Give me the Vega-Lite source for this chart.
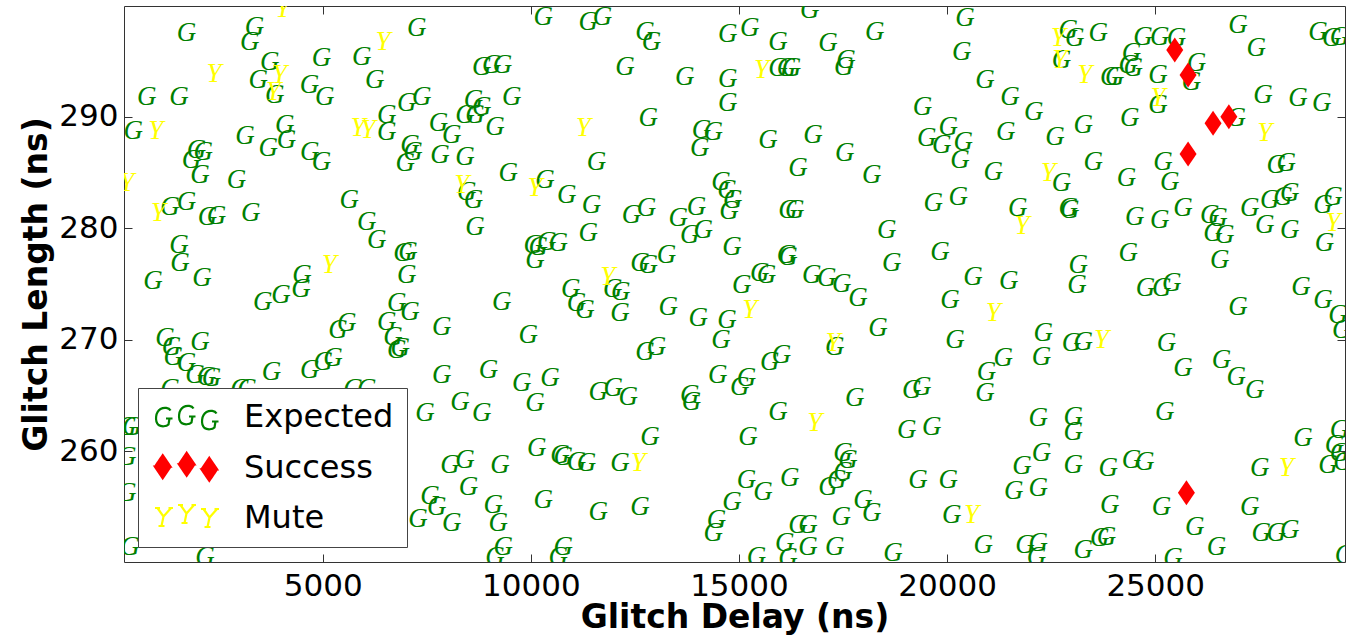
{
"$schema":"https://vega.github.io/schema/vega-lite/v6.json",
"width":1221,"height":556,
"autosize":{"type":"none"},
"padding":{"left":124,"top":6,"right":3,"bottom":75},
"background":"white",
"config":{"view":{"stroke":"#333","strokeWidth":1},
 "axis":{"labelFont":"DejaVu Sans","labelFontSize":31,"labelColor":"black","titleFont":"DejaVu Sans","titleFontSize":33,"titleFontWeight":"bold","titleColor":"black","grid":false,"domain":false,"tickColor":"#333","tickWidth":1,"tickSize":-8}},
"data":{"values":[
{"delay":4040,"length":299.62,"result":"Mute"},
{"delay":1730,"length":297.45,"result":"Expected"},
{"delay":3360,"length":298.04,"result":"Expected"},
{"delay":3250,"length":296.70,"result":"Expected"},
{"delay":7260,"length":297.90,"result":"Expected"},
{"delay":6450,"length":296.70,"result":"Mute"},
{"delay":2390,"length":293.80,"result":"Mute"},
{"delay":3730,"length":294.90,"result":"Expected"},
{"delay":3450,"length":293.26,"result":"Expected"},
{"delay":3960,"length":293.71,"result":"Mute"},
{"delay":3850,"length":291.92,"result":"Expected"},
{"delay":3810,"length":292.22,"result":"Mute"},
{"delay":4970,"length":295.21,"result":"Expected"},
{"delay":5940,"length":295.35,"result":"Expected"},
{"delay":6250,"length":293.26,"result":"Expected"},
{"delay":4680,"length":292.82,"result":"Expected"},
{"delay":5050,"length":291.77,"result":"Expected"},
{"delay":770,"length":291.77,"result":"Expected"},
{"delay":1550,"length":291.77,"result":"Expected"},
{"delay":450,"length":288.72,"result":"Expected"},
{"delay":990,"length":288.72,"result":"Mute"},
{"delay":3130,"length":288.25,"result":"Expected"},
{"delay":4090,"length":289.23,"result":"Expected"},
{"delay":4130,"length":287.89,"result":"Expected"},
{"delay":3690,"length":287.15,"result":"Expected"},
{"delay":4690,"length":286.84,"result":"Expected"},
{"delay":4970,"length":285.95,"result":"Expected"},
{"delay":5850,"length":288.94,"result":"Mute"},
{"delay":6090,"length":288.79,"result":"Mute"},
{"delay":6540,"length":290.13,"result":"Expected"},
{"delay":6540,"length":288.63,"result":"Expected"},
{"delay":7020,"length":291.18,"result":"Expected"},
{"delay":7380,"length":291.77,"result":"Expected"},
{"delay":7100,"length":287.44,"result":"Expected"},
{"delay":7170,"length":286.84,"result":"Expected"},
{"delay":6980,"length":285.80,"result":"Expected"},
{"delay":1970,"length":286.99,"result":"Expected"},
{"delay":2130,"length":286.84,"result":"Expected"},
{"delay":1850,"length":286.10,"result":"Expected"},
{"delay":2050,"length":284.76,"result":"Expected"},
{"delay":2930,"length":284.31,"result":"Expected"},
{"delay":290,"length":284.01,"result":"Mute"},
{"delay":1050,"length":281.33,"result":"Mute"},
{"delay":1330,"length":281.92,"result":"Expected"},
{"delay":1730,"length":282.36,"result":"Expected"},
{"delay":2230,"length":281.02,"result":"Expected"},
{"delay":2450,"length":281.08,"result":"Expected"},
{"delay":3270,"length":281.33,"result":"Expected"},
{"delay":5640,"length":282.52,"result":"Expected"},
{"delay":6060,"length":280.57,"result":"Expected"},
{"delay":6300,"length":278.93,"result":"Expected"},
{"delay":6930,"length":277.74,"result":"Expected"},
{"delay":7050,"length":277.89,"result":"Expected"},
{"delay":1550,"length":278.49,"result":"Expected"},
{"delay":1570,"length":276.85,"result":"Expected"},
{"delay":2100,"length":275.53,"result":"Expected"},
{"delay":920,"length":275.26,"result":"Expected"},
{"delay":5160,"length":276.69,"result":"Mute"},
{"delay":4500,"length":275.80,"result":"Expected"},
{"delay":4480,"length":274.54,"result":"Expected"},
{"delay":4000,"length":274.01,"result":"Expected"},
{"delay":3560,"length":273.38,"result":"Expected"},
{"delay":7020,"length":275.80,"result":"Expected"},
{"delay":5370,"length":270.87,"result":"Expected"},
{"delay":5580,"length":271.47,"result":"Expected"},
{"delay":6780,"length":273.26,"result":"Expected"},
{"delay":7100,"length":272.51,"result":"Expected"},
{"delay":6540,"length":271.62,"result":"Expected"},
{"delay":6690,"length":270.27,"result":"Expected"},
{"delay":6860,"length":269.23,"result":"Expected"},
{"delay":6780,"length":269.08,"result":"Expected"},
{"delay":1210,"length":270.13,"result":"Expected"},
{"delay":1370,"length":269.38,"result":"Expected"},
{"delay":1410,"length":268.48,"result":"Expected"},
{"delay":2050,"length":269.82,"result":"Expected"},
{"delay":1730,"length":267.89,"result":"Expected"},
{"delay":1930,"length":266.84,"result":"Expected"},
{"delay":2210,"length":266.69,"result":"Expected"},
{"delay":2330,"length":266.55,"result":"Expected"},
{"delay":3770,"length":267.14,"result":"Expected"},
{"delay":4690,"length":267.29,"result":"Expected"},
{"delay":5010,"length":268.03,"result":"Expected"},
{"delay":5250,"length":268.34,"result":"Expected"},
{"delay":1330,"length":265.59,"result":"Expected"},
{"delay":3010,"length":265.59,"result":"Expected"},
{"delay":3180,"length":265.59,"result":"Expected"},
{"delay":5730,"length":265.59,"result":"Expected"},
{"delay":6060,"length":265.59,"result":"Expected"},
{"delay":290,"length":262.21,"result":"Expected"},
{"delay":410,"length":262.21,"result":"Expected"},
{"delay":290,"length":259.52,"result":"Expected"},
{"delay":290,"length":256.25,"result":"Expected"},
{"delay":370,"length":251.46,"result":"Expected"},
{"delay":7460,"length":263.44,"result":"Expected"},
{"delay":7580,"length":256.00,"result":"Expected"},
{"delay":7740,"length":255.02,"result":"Expected"},
{"delay":7290,"length":253.94,"result":"Expected"},
{"delay":2170,"length":250.54,"result":"Expected"},
{"delay":10300,"length":298.93,"result":"Expected"},
{"delay":11380,"length":298.49,"result":"Expected"},
{"delay":11720,"length":298.88,"result":"Expected"},
{"delay":12740,"length":297.59,"result":"Expected"},
{"delay":12900,"length":296.70,"result":"Expected"},
{"delay":14730,"length":297.38,"result":"Expected"},
{"delay":8820,"length":294.46,"result":"Expected"},
{"delay":9060,"length":294.61,"result":"Expected"},
{"delay":9320,"length":294.61,"result":"Expected"},
{"delay":12260,"length":294.46,"result":"Expected"},
{"delay":13700,"length":293.56,"result":"Expected"},
{"delay":14730,"length":293.35,"result":"Expected"},
{"delay":14730,"length":291.20,"result":"Expected"},
{"delay":9540,"length":291.77,"result":"Expected"},
{"delay":8620,"length":291.47,"result":"Expected"},
{"delay":8820,"length":290.87,"result":"Expected"},
{"delay":8420,"length":290.13,"result":"Expected"},
{"delay":8660,"length":290.13,"result":"Expected"},
{"delay":7780,"length":289.39,"result":"Expected"},
{"delay":8100,"length":288.34,"result":"Expected"},
{"delay":9140,"length":289.08,"result":"Expected"},
{"delay":7820,"length":286.55,"result":"Expected"},
{"delay":8420,"length":286.39,"result":"Expected"},
{"delay":11260,"length":288.94,"result":"Mute"},
{"delay":12820,"length":289.83,"result":"Expected"},
{"delay":14100,"length":288.79,"result":"Expected"},
{"delay":14380,"length":288.63,"result":"Expected"},
{"delay":14060,"length":287.15,"result":"Expected"},
{"delay":11580,"length":285.95,"result":"Expected"},
{"delay":9460,"length":284.91,"result":"Expected"},
{"delay":8340,"length":283.86,"result":"Mute"},
{"delay":8460,"length":283.26,"result":"Expected"},
{"delay":8620,"length":282.52,"result":"Expected"},
{"delay":10100,"length":283.56,"result":"Mute"},
{"delay":10340,"length":284.31,"result":"Expected"},
{"delay":10860,"length":282.96,"result":"Expected"},
{"delay":11460,"length":282.07,"result":"Expected"},
{"delay":12420,"length":281.17,"result":"Expected"},
{"delay":12780,"length":281.77,"result":"Expected"},
{"delay":13540,"length":280.88,"result":"Expected"},
{"delay":13980,"length":281.92,"result":"Expected"},
{"delay":14570,"length":284.13,"result":"Expected"},
{"delay":14710,"length":283.41,"result":"Expected"},
{"delay":14850,"length":282.52,"result":"Expected"},
{"delay":14760,"length":281.53,"result":"Expected"},
{"delay":8660,"length":280.12,"result":"Expected"},
{"delay":11380,"length":279.53,"result":"Expected"},
{"delay":13820,"length":279.38,"result":"Expected"},
{"delay":14140,"length":279.83,"result":"Expected"},
{"delay":10060,"length":278.49,"result":"Expected"},
{"delay":10180,"length":278.33,"result":"Expected"},
{"delay":10100,"length":277.14,"result":"Expected"},
{"delay":10380,"length":278.78,"result":"Expected"},
{"delay":10660,"length":278.64,"result":"Expected"},
{"delay":12620,"length":276.85,"result":"Expected"},
{"delay":12820,"length":276.69,"result":"Expected"},
{"delay":13260,"length":277.59,"result":"Expected"},
{"delay":14830,"length":278.31,"result":"Expected"},
{"delay":11850,"length":275.62,"result":"Mute"},
{"delay":10960,"length":274.54,"result":"Expected"},
{"delay":11970,"length":274.54,"result":"Expected"},
{"delay":12160,"length":274.28,"result":"Expected"},
{"delay":11100,"length":273.26,"result":"Expected"},
{"delay":11300,"length":272.66,"result":"Expected"},
{"delay":12140,"length":272.37,"result":"Expected"},
{"delay":9300,"length":273.41,"result":"Expected"},
{"delay":7860,"length":271.17,"result":"Expected"},
{"delay":9940,"length":270.42,"result":"Expected"},
{"delay":13300,"length":272.96,"result":"Expected"},
{"delay":14020,"length":271.92,"result":"Expected"},
{"delay":14710,"length":271.77,"result":"Expected"},
{"delay":14570,"length":269.98,"result":"Expected"},
{"delay":12740,"length":268.93,"result":"Expected"},
{"delay":13020,"length":269.38,"result":"Expected"},
{"delay":7860,"length":266.84,"result":"Expected"},
{"delay":8980,"length":267.29,"result":"Expected"},
{"delay":9780,"length":266.10,"result":"Expected"},
{"delay":10460,"length":266.55,"result":"Expected"},
{"delay":10100,"length":264.31,"result":"Expected"},
{"delay":8300,"length":264.45,"result":"Expected"},
{"delay":8820,"length":263.41,"result":"Expected"},
{"delay":11620,"length":265.35,"result":"Expected"},
{"delay":11980,"length":265.65,"result":"Expected"},
{"delay":12340,"length":264.90,"result":"Expected"},
{"delay":13820,"length":265.05,"result":"Expected"},
{"delay":13860,"length":264.45,"result":"Expected"},
{"delay":14490,"length":266.84,"result":"Expected"},
{"delay":12860,"length":261.32,"result":"Expected"},
{"delay":10140,"length":260.28,"result":"Expected"},
{"delay":10700,"length":259.68,"result":"Expected"},
{"delay":10780,"length":259.52,"result":"Expected"},
{"delay":11100,"length":259.08,"result":"Expected"},
{"delay":11340,"length":258.93,"result":"Expected"},
{"delay":12140,"length":258.93,"result":"Expected"},
{"delay":12580,"length":258.93,"result":"Mute"},
{"delay":8060,"length":258.78,"result":"Expected"},
{"delay":8420,"length":259.23,"result":"Expected"},
{"delay":9260,"length":258.78,"result":"Expected"},
{"delay":8500,"length":256.84,"result":"Expected"},
{"delay":8100,"length":253.56,"result":"Expected"},
{"delay":9100,"length":255.20,"result":"Expected"},
{"delay":9220,"length":253.56,"result":"Expected"},
{"delay":10300,"length":255.65,"result":"Expected"},
{"delay":11620,"length":254.60,"result":"Expected"},
{"delay":12620,"length":255.05,"result":"Expected"},
{"delay":14460,"length":253.85,"result":"Expected"},
{"delay":14380,"length":252.66,"result":"Expected"},
{"delay":14830,"length":255.47,"result":"Expected"},
{"delay":9340,"length":251.46,"result":"Expected"},
{"delay":9140,"length":250.57,"result":"Expected"},
{"delay":10780,"length":251.46,"result":"Expected"},
{"delay":10660,"length":250.57,"result":"Expected"},
{"delay":16700,"length":299.53,"result":"Expected"},
{"delay":15260,"length":297.90,"result":"Expected"},
{"delay":15940,"length":296.70,"result":"Expected"},
{"delay":17140,"length":296.55,"result":"Expected"},
{"delay":18260,"length":297.59,"result":"Expected"},
{"delay":20430,"length":298.79,"result":"Expected"},
{"delay":20350,"length":295.80,"result":"Expected"},
{"delay":15540,"length":294.16,"result":"Mute"},
{"delay":15940,"length":294.31,"result":"Expected"},
{"delay":16140,"length":294.31,"result":"Expected"},
{"delay":16260,"length":294.31,"result":"Expected"},
{"delay":17570,"length":295.06,"result":"Expected"},
{"delay":17520,"length":294.46,"result":"Expected"},
{"delay":20910,"length":293.26,"result":"Expected"},
{"delay":21510,"length":291.77,"result":"Expected"},
{"delay":22080,"length":290.40,"result":"Expected"},
{"delay":19410,"length":290.87,"result":"Expected"},
{"delay":15700,"length":287.89,"result":"Expected"},
{"delay":16780,"length":288.34,"result":"Expected"},
{"delay":17540,"length":286.70,"result":"Expected"},
{"delay":16420,"length":285.36,"result":"Expected"},
{"delay":18190,"length":284.76,"result":"Expected"},
{"delay":19510,"length":288.04,"result":"Expected"},
{"delay":19870,"length":287.44,"result":"Expected"},
{"delay":20030,"length":289.08,"result":"Expected"},
{"delay":20390,"length":287.74,"result":"Expected"},
{"delay":20310,"length":286.10,"result":"Expected"},
{"delay":21410,"length":288.63,"result":"Expected"},
{"delay":21110,"length":285.05,"result":"Expected"},
{"delay":16180,"length":281.62,"result":"Expected"},
{"delay":16340,"length":281.62,"result":"Expected"},
{"delay":19670,"length":282.22,"result":"Expected"},
{"delay":20270,"length":282.81,"result":"Expected"},
{"delay":21700,"length":281.84,"result":"Expected"},
{"delay":21800,"length":280.19,"result":"Mute"},
{"delay":16140,"length":277.59,"result":"Expected"},
{"delay":16180,"length":277.44,"result":"Expected"},
{"delay":18550,"length":279.83,"result":"Expected"},
{"delay":19830,"length":277.89,"result":"Expected"},
{"delay":18670,"length":276.85,"result":"Expected"},
{"delay":15500,"length":275.95,"result":"Expected"},
{"delay":15660,"length":275.80,"result":"Expected"},
{"delay":15070,"length":274.90,"result":"Expected"},
{"delay":16750,"length":275.80,"result":"Expected"},
{"delay":17110,"length":275.53,"result":"Expected"},
{"delay":17470,"length":274.99,"result":"Expected"},
{"delay":20620,"length":275.62,"result":"Expected"},
{"delay":21480,"length":275.26,"result":"Expected"},
{"delay":17860,"length":273.71,"result":"Expected"},
{"delay":15260,"length":272.66,"result":"Mute"},
{"delay":18340,"length":271.02,"result":"Expected"},
{"delay":20070,"length":273.56,"result":"Expected"},
{"delay":20190,"length":269.98,"result":"Expected"},
{"delay":21110,"length":272.37,"result":"Mute"},
{"delay":17260,"length":269.68,"result":"Mute"},
{"delay":17300,"length":269.38,"result":"Expected"},
{"delay":15740,"length":268.03,"result":"Expected"},
{"delay":16020,"length":268.63,"result":"Expected"},
{"delay":15020,"length":265.79,"result":"Expected"},
{"delay":15180,"length":266.55,"result":"Expected"},
{"delay":17780,"length":264.75,"result":"Expected"},
{"delay":19150,"length":265.50,"result":"Expected"},
{"delay":19390,"length":265.79,"result":"Expected"},
{"delay":20950,"length":267.14,"result":"Expected"},
{"delay":21350,"length":268.34,"result":"Expected"},
{"delay":20910,"length":265.20,"result":"Expected"},
{"delay":15940,"length":263.56,"result":"Expected"},
{"delay":16820,"length":262.52,"result":"Mute"},
{"delay":15220,"length":261.32,"result":"Expected"},
{"delay":19030,"length":261.92,"result":"Expected"},
{"delay":19630,"length":262.21,"result":"Expected"},
{"delay":17500,"length":259.83,"result":"Expected"},
{"delay":17620,"length":259.23,"result":"Expected"},
{"delay":17500,"length":258.18,"result":"Expected"},
{"delay":17350,"length":257.44,"result":"Expected"},
{"delay":17140,"length":256.84,"result":"Expected"},
{"delay":15180,"length":257.44,"result":"Expected"},
{"delay":15580,"length":256.39,"result":"Expected"},
{"delay":16220,"length":257.59,"result":"Expected"},
{"delay":19300,"length":257.44,"result":"Expected"},
{"delay":20030,"length":257.44,"result":"Expected"},
{"delay":21800,"length":258.69,"result":"Expected"},
{"delay":21600,"length":256.45,"result":"Expected"},
{"delay":17980,"length":255.65,"result":"Expected"},
{"delay":18190,"length":254.45,"result":"Expected"},
{"delay":17460,"length":254.15,"result":"Expected"},
{"delay":16420,"length":253.41,"result":"Expected"},
{"delay":16660,"length":253.41,"result":"Expected"},
{"delay":20110,"length":254.30,"result":"Expected"},
{"delay":20590,"length":254.30,"result":"Mute"},
{"delay":16100,"length":251.77,"result":"Expected"},
{"delay":16660,"length":251.46,"result":"Expected"},
{"delay":17300,"length":251.46,"result":"Expected"},
{"delay":15420,"length":250.57,"result":"Expected"},
{"delay":16180,"length":250.42,"result":"Expected"},
{"delay":18700,"length":250.87,"result":"Expected"},
{"delay":20870,"length":251.61,"result":"Expected"},
{"delay":21870,"length":251.61,"result":"Expected"},
{"delay":22670,"length":297.00,"result":"Mute"},
{"delay":22910,"length":297.74,"result":"Expected"},
{"delay":23070,"length":297.00,"result":"Expected"},
{"delay":23630,"length":297.45,"result":"Expected"},
{"delay":24710,"length":297.14,"result":"Expected"},
{"delay":25110,"length":297.14,"result":"Expected"},
{"delay":25510,"length":297.00,"result":"Expected"},
{"delay":25470,"length":295.95,"result":"Success"},
{"delay":24430,"length":295.66,"result":"Expected"},
{"delay":24350,"length":294.61,"result":"Expected"},
{"delay":24470,"length":294.31,"result":"Expected"},
{"delay":23910,"length":293.56,"result":"Expected"},
{"delay":24030,"length":293.56,"result":"Expected"},
{"delay":22710,"length":295.06,"result":"Mute"},
{"delay":22750,"length":295.06,"result":"Expected"},
{"delay":23310,"length":293.71,"result":"Mute"},
{"delay":25070,"length":293.71,"result":"Expected"},
{"delay":25790,"length":293.71,"result":"Success"},
{"delay":25990,"length":294.76,"result":"Expected"},
{"delay":25870,"length":293.11,"result":"Expected"},
{"delay":26990,"length":298.19,"result":"Expected"},
{"delay":27430,"length":296.10,"result":"Expected"},
{"delay":28910,"length":297.59,"result":"Expected"},
{"delay":29240,"length":297.00,"result":"Expected"},
{"delay":29430,"length":297.14,"result":"Expected"},
{"delay":25070,"length":291.63,"result":"Mute"},
{"delay":25070,"length":291.03,"result":"Expected"},
{"delay":24390,"length":289.83,"result":"Expected"},
{"delay":23270,"length":289.23,"result":"Expected"},
{"delay":22590,"length":288.19,"result":"Expected"},
{"delay":26390,"length":289.39,"result":"Success"},
{"delay":26770,"length":289.98,"result":"Success"},
{"delay":26950,"length":289.83,"result":"Expected"},
{"delay":27590,"length":291.92,"result":"Expected"},
{"delay":28430,"length":291.63,"result":"Expected"},
{"delay":29000,"length":291.18,"result":"Expected"},
{"delay":27630,"length":288.49,"result":"Mute"},
{"delay":25790,"length":286.64,"result":"Success"},
{"delay":23510,"length":285.95,"result":"Expected"},
{"delay":25190,"length":285.95,"result":"Expected"},
{"delay":22430,"length":284.91,"result":"Mute"},
{"delay":22750,"length":284.01,"result":"Expected"},
{"delay":24310,"length":284.46,"result":"Expected"},
{"delay":25350,"length":284.16,"result":"Expected"},
{"delay":27910,"length":285.65,"result":"Expected"},
{"delay":28150,"length":285.80,"result":"Expected"},
{"delay":22910,"length":281.77,"result":"Expected"},
{"delay":22950,"length":281.62,"result":"Expected"},
{"delay":24510,"length":281.02,"result":"Expected"},
{"delay":25110,"length":280.72,"result":"Expected"},
{"delay":25670,"length":281.77,"result":"Expected"},
{"delay":26310,"length":281.17,"result":"Expected"},
{"delay":26510,"length":280.88,"result":"Expected"},
{"delay":26390,"length":279.53,"result":"Expected"},
{"delay":26670,"length":279.38,"result":"Expected"},
{"delay":27270,"length":281.77,"result":"Expected"},
{"delay":27750,"length":282.52,"result":"Expected"},
{"delay":28070,"length":282.81,"result":"Expected"},
{"delay":28230,"length":283.12,"result":"Expected"},
{"delay":27630,"length":280.28,"result":"Expected"},
{"delay":28230,"length":279.83,"result":"Expected"},
{"delay":29030,"length":282.07,"result":"Expected"},
{"delay":29270,"length":282.81,"result":"Expected"},
{"delay":29270,"length":280.43,"result":"Mute"},
{"delay":29070,"length":278.64,"result":"Expected"},
{"delay":24350,"length":277.74,"result":"Expected"},
{"delay":26550,"length":277.14,"result":"Expected"},
{"delay":23150,"length":276.69,"result":"Expected"},
{"delay":23120,"length":274.90,"result":"Expected"},
{"delay":24770,"length":274.63,"result":"Expected"},
{"delay":25160,"length":274.63,"result":"Expected"},
{"delay":25400,"length":275.08,"result":"Expected"},
{"delay":28500,"length":274.72,"result":"Expected"},
{"delay":26990,"length":272.96,"result":"Expected"},
{"delay":29030,"length":273.56,"result":"Expected"},
{"delay":29390,"length":272.22,"result":"Expected"},
{"delay":29480,"length":270.87,"result":"Expected"},
{"delay":22310,"length":270.58,"result":"Expected"},
{"delay":22270,"length":268.48,"result":"Expected"},
{"delay":22990,"length":269.68,"result":"Expected"},
{"delay":23270,"length":269.82,"result":"Expected"},
{"delay":23710,"length":269.98,"result":"Mute"},
{"delay":25270,"length":269.68,"result":"Expected"},
{"delay":25670,"length":267.44,"result":"Expected"},
{"delay":26590,"length":268.19,"result":"Expected"},
{"delay":26950,"length":266.69,"result":"Expected"},
{"delay":27390,"length":265.50,"result":"Expected"},
{"delay":22190,"length":262.96,"result":"Expected"},
{"delay":23030,"length":263.11,"result":"Expected"},
{"delay":23030,"length":261.76,"result":"Expected"},
{"delay":25230,"length":263.56,"result":"Expected"},
{"delay":28550,"length":261.17,"result":"Expected"},
{"delay":29430,"length":261.92,"result":"Expected"},
{"delay":29310,"length":260.57,"result":"Expected"},
{"delay":29430,"length":259.83,"result":"Expected"},
{"delay":29150,"length":258.78,"result":"Expected"},
{"delay":29510,"length":259.08,"result":"Expected"},
{"delay":22270,"length":259.83,"result":"Expected"},
{"delay":23030,"length":258.78,"result":"Expected"},
{"delay":23870,"length":258.48,"result":"Expected"},
{"delay":24430,"length":259.23,"result":"Expected"},
{"delay":24750,"length":259.08,"result":"Expected"},
{"delay":27510,"length":258.48,"result":"Expected"},
{"delay":28150,"length":258.48,"result":"Mute"},
{"delay":22190,"length":256.69,"result":"Expected"},
{"delay":25750,"length":256.30,"result":"Success"},
{"delay":23910,"length":255.20,"result":"Expected"},
{"delay":25150,"length":255.05,"result":"Expected"},
{"delay":27270,"length":255.05,"result":"Expected"},
{"delay":25950,"length":253.25,"result":"Expected"},
{"delay":26470,"length":251.46,"result":"Expected"},
{"delay":27550,"length":252.66,"result":"Expected"},
{"delay":27910,"length":252.66,"result":"Expected"},
{"delay":28230,"length":252.96,"result":"Expected"},
{"delay":22190,"length":251.77,"result":"Expected"},
{"delay":22150,"length":250.57,"result":"Expected"},
{"delay":23270,"length":251.17,"result":"Expected"},
{"delay":23670,"length":252.21,"result":"Expected"},
{"delay":23830,"length":252.36,"result":"Expected"},
{"delay":25430,"length":250.42,"result":"Expected"},
{"delay":29550,"length":250.72,"result":"Expected"}
]},
"layer":[
 {"transform":[{"filter":"datum.result === 'Expected'"}],
  "mark":{"type":"text","text":"G","font":"Liberation Serif","fontStyle":"italic","fontSize":27,"align":"center","baseline":"middle","clip":true,"color":"#008000"},
  "encoding":{
   "x":{"field":"delay","type":"quantitative","scale":{"domain":[226,29560],"nice":false,"zero":false},"axis":{"title":"Glitch Delay (ns)","values":[5000,10000,15000,20000,25000],"format":"d","labelPadding":17,"titlePadding":0}},
   "y":{"field":"length","type":"quantitative","scale":{"domain":[250.1,299.9],"nice":false,"zero":false},"axis":{"title":"Glitch Length (ns)","values":[260,270,280,290],"format":"d","labelPadding":14,"titlePadding":5}}}},
 {"transform":[{"filter":"datum.result === 'Mute'"}],
  "mark":{"type":"text","text":"Y","font":"Liberation Serif","fontStyle":"italic","fontSize":27,"align":"center","baseline":"middle","clip":true,"color":"#ffff00"},
  "encoding":{
   "x":{"field":"delay","type":"quantitative","scale":{"domain":[226,29560],"nice":false,"zero":false},"axis":{"orient":"top","title":null,"labels":false,"values":[5000,10000,15000,20000,25000]}},
   "y":{"field":"length","type":"quantitative","scale":{"domain":[250.1,299.9],"nice":false,"zero":false},"axis":{"orient":"right","title":null,"labels":false,"values":[260,270,280,290]}}}},
 {"transform":[{"filter":"datum.result === 'Success'"}],
  "mark":{"type":"point","filled":true,"opacity":1,"color":"#ff0000","shape":"M0,-1L0.68,0L0,1L-0.68,0Z","size":625,"strokeWidth":0,"clip":true},
  "encoding":{
   "x":{"field":"delay","type":"quantitative","scale":{"domain":[226,29560],"nice":false,"zero":false},"axis":null},
   "y":{"field":"length","type":"quantitative","scale":{"domain":[250.1,299.9],"nice":false,"zero":false},"axis":null}}},
 {"mark":{"type":"point","filled":false,"opacity":0,"strokeWidth":2.2,"size":400,"clip":true},
  "encoding":{
   "x":{"field":"delay","type":"quantitative","scale":{"domain":[226,29560],"nice":false,"zero":false},"axis":null},
   "y":{"field":"length","type":"quantitative","scale":{"domain":[250.1,299.9],"nice":false,"zero":false},"axis":null},
   "color":{"field":"result","type":"nominal","scale":{"domain":["Expected","Success","Mute"],"range":["#008000","#ff0000","#ffff00"]},
    "legend":{"orient":"none","legendX":14,"legendY":382,"title":null,"direction":"vertical","fillColor":"white","strokeColor":"#444","padding":13,"labelFont":"DejaVu Sans","labelFontSize":32,"labelColor":"black","labelOffset":61,"labelLimit":400,"rowPadding":14,"symbolSize":400,"symbolStrokeWidth":2.2,"symbolOpacity":1,"symbolOffset":0}},
   "shape":{"field":"result","type":"nominal","scale":{"domain":["Expected","Success","Mute"],"range":[
     "M0.35,-0.65C0.2,-0.95,-0.3,-1,-0.65,-0.8C-1.15,-0.5,-1.25,0.4,-0.85,0.8C-0.55,1,-0.05,0.95,0.15,0.75L0.25,0.15M-0.1,0.15L0.55,0.15M2.65,-0.85C2.5,-1.15,2,-1.2,1.65,-1C1.15,-0.7,1.05,0.2,1.45,0.6C1.75,0.8,2.25,0.75,2.45,0.55L2.55,-0.05M2.2,-0.05L2.85,-0.05M4.95,-0.35C4.8,-0.65,4.3,-0.7,3.95,-0.5C3.45,-0.2,3.35,0.7,3.75,1.1C4.05,1.3,4.55,1.25,4.75,1.05L4.85,0.45M4.5,0.45L5.15,0.45",
     "M-0.43,-1.28L0.35,-0.13L-0.43,1.02L-1.21,-0.13ZM-0.53,-1.13L-0.33,-1.13L-0.19,-0.93L-0.67,-0.93L-0.8,-0.73L-0.06,-0.73L0.08,-0.53L-0.94,-0.53L-1.07,-0.33L0.21,-0.33L0.35,-0.13L-1.21,-0.13L-1.07,0.07L0.21,0.07L0.08,0.27L-0.94,0.27L-0.8,0.47L-0.06,0.47L-0.19,0.67L-0.67,0.67L-0.53,0.87L-0.33,0.87M1.97,-1.52L2.75,-0.37L1.97,0.78L1.19,-0.37ZM1.87,-1.37L2.07,-1.37L2.21,-1.17L1.73,-1.17L1.6,-0.97L2.34,-0.97L2.48,-0.77L1.46,-0.77L1.33,-0.57L2.61,-0.57L2.75,-0.37L1.19,-0.37L1.33,-0.17L2.61,-0.17L2.48,0.03L1.46,0.03L1.6,0.23L2.34,0.23L2.21,0.43L1.73,0.43L1.87,0.63L2.07,0.63M4.23,-1.02L5.01,0.13L4.23,1.28L3.45,0.13ZM4.13,-0.87L4.33,-0.87L4.47,-0.67L3.99,-0.67L3.86,-0.47L4.6,-0.47L4.74,-0.27L3.72,-0.27L3.59,-0.07L4.87,-0.07L5.01,0.13L3.45,0.13L3.59,0.33L4.87,0.33L4.74,0.53L3.72,0.53L3.86,0.73L4.6,0.73L4.47,0.93L3.99,0.93L4.13,1.13L4.33,1.13",
     "M-0.95,-1L-0.35,-0.15L-0.55,0.8M0.4,-1L-0.35,-0.15M-1.2,-1L-0.7,-1M0.15,-1L0.6,-1M-0.85,0.8L-0.25,0.8M1.35,-1.3L1.95,-0.45L1.75,0.5M2.7,-1.3L1.95,-0.45M1.1,-1.3L1.6,-1.3M2.45,-1.3L2.9,-1.3M1.45,0.5L2.05,0.5M3.65,-0.9L4.25,-0.05L4.05,0.9M5,-0.9L4.25,-0.05M3.4,-0.9L3.9,-0.9M4.75,-0.9L5.2,-0.9M3.75,0.9L4.35,0.9"]},
    "legend":{"orient":"none","legendX":14,"legendY":382,"title":null,"direction":"vertical","fillColor":"white","strokeColor":"#444","padding":13,"labelFont":"DejaVu Sans","labelFontSize":32,"labelColor":"black","labelOffset":61,"labelLimit":400,"rowPadding":14,"symbolSize":400,"symbolStrokeWidth":2.2,"symbolOpacity":1,"symbolOffset":0}}}}
],
"resolve":{"axis":{"x":"independent","y":"independent"}}
}
